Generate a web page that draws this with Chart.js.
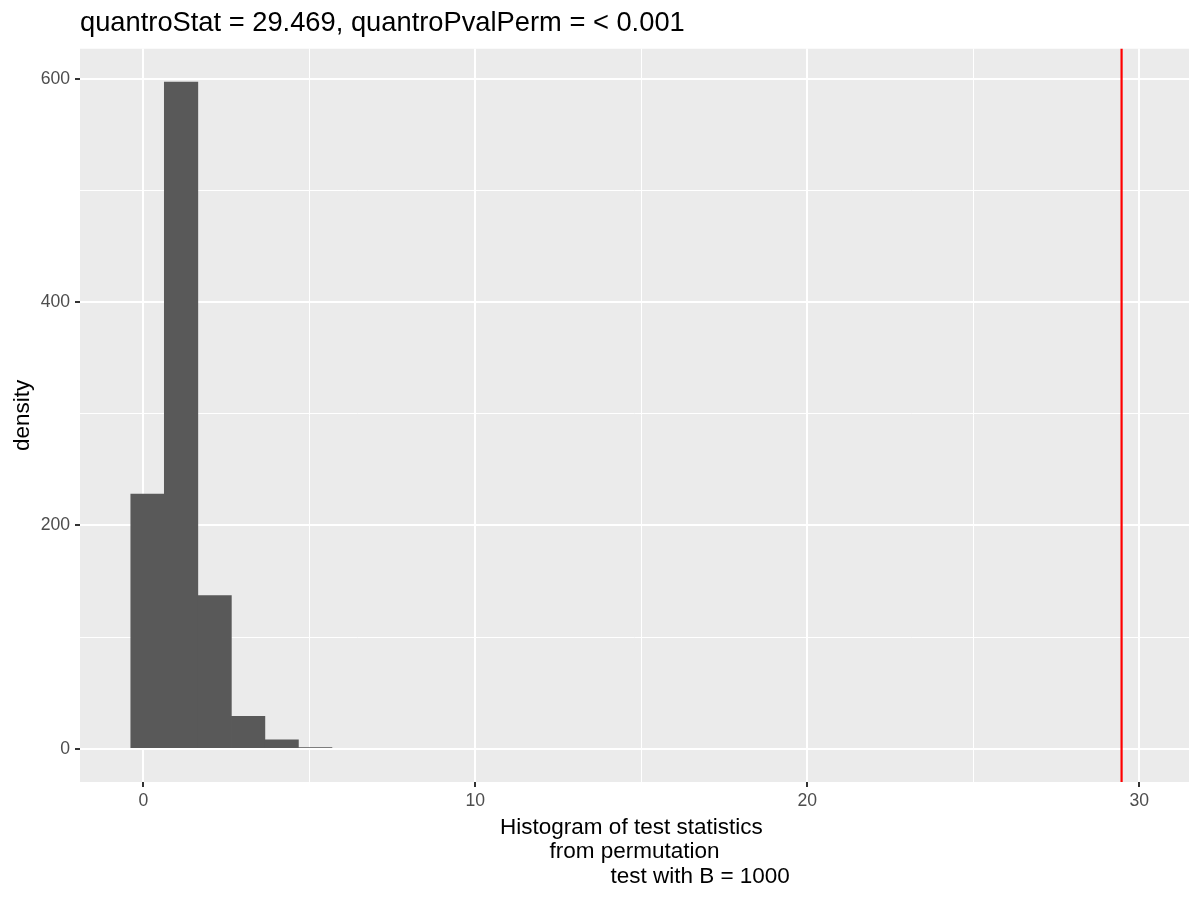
<!DOCTYPE html>
<html>
<head>
<meta charset="utf-8">
<title>Histogram of permutation test statistics</title>
<script src="https://cdn.jsdelivr.net/npm/chart.js@4.4.1/dist/chart.umd.min.js"></script>
<style>
    html, body { margin: 0; padding: 0; background: #ffffff; }
    #histChart { display: block; }
</style>
</head>
<body>
<canvas id="histChart" width="1200" height="900"></canvas>
<script>
// histogram bins (width ~1.01, first left edge ~ -0.38)
const binCenters = [0.125, 1.135, 2.145, 3.155, 4.165, 5.175];
const binCounts = [228, 597, 137, 29, 8, 1];
const quantroStat = 29.469;
const quantroPval = '< 0.001';
const permutations = 1000;

const xGridValues = [0, 5, 10, 15, 20, 25, 30];
const xTickLabels = [0, 10, 20, 30];
const yGridValues = [0, 100, 200, 300, 400, 500, 600];
const yTickLabels = [0, 200, 400, 600];
const xLimits = [-1.91, 31.5];
const yLimits = [-29.85, 626.85];

document.addEventListener("DOMContentLoaded", function () {
    Chart.defaults.font.family = "'Liberation Sans', Arial, sans-serif";

    const panelBackground = {
        id: 'panelBackground',
        beforeDraw(chart) {
            const { ctx, chartArea } = chart;
            ctx.save();
            ctx.fillStyle = '#EBEBEB';
            ctx.fillRect(chartArea.left, chartArea.top, chartArea.right - chartArea.left, chartArea.bottom - chartArea.top);
            ctx.restore();
        }
    };

    // vertical line at the observed statistic
    const statLine = {
        id: 'statLine',
        afterDatasetsDraw(chart) {
            const { ctx, chartArea } = chart;
            const x = chart.scales.x.getPixelForValue(quantroStat);
            ctx.save();
            ctx.strokeStyle = '#FF0000';
            ctx.lineWidth = 2.2;
            ctx.beginPath();
            ctx.moveTo(x, chartArea.top);
            ctx.lineTo(x, chartArea.bottom);
            ctx.stroke();
            ctx.restore();
        }
    };

    function gridFor(majors) {
        return {
            offset: false,
            color: '#ffffff',
            lineWidth: c => (c.tick && majors.includes(c.tick.value)) ? 2 : 1,
            drawTicks: true,
            tickLength: 5,
            tickWidth: 2,
            tickColor: c => (c.tick && majors.includes(c.tick.value)) ? '#333333' : 'rgba(0,0,0,0)'
        };
    }

    const ctx = document.getElementById("histChart").getContext("2d");

    new Chart(ctx, {
        type: 'bar',
        data: {
            datasets: [{
                label: 'count',
                data: binCenters.map((x, i) => ({ x: x, y: binCounts[i] })),
                backgroundColor: '#595959',
                borderWidth: 0,
                barPercentage: 1,
                categoryPercentage: 1
            }]
        },
        options: {
            responsive: false,
            animation: false,
            devicePixelRatio: 1,
            layout: { padding: { left: 0, right: 11, top: 0, bottom: 0 } },
            plugins: {
                legend: { display: false },
                tooltip: { enabled: false },
                title: {
                    display: true,
                    text: 'quantroStat = ' + quantroStat.toFixed(3) + ', quantroPvalPerm = ' + quantroPval,
                    align: 'start',
                    fullSize: false,
                    color: '#000000',
                    font: { size: 27.3, weight: 'normal', lineHeight: 1.2 },
                    padding: { top: 7, bottom: 9 }
                }
            },
            scales: {
                x: {
                    type: 'linear',
                    offset: false,
                    min: xLimits[0],
                    max: xLimits[1],
                    afterBuildTicks: s => { s.ticks = xGridValues.map(v => ({ value: v })); },
                    afterFit: s => { s.height = 118; },
                    grid: gridFor(xTickLabels),
                    border: { display: false },
                    ticks: {
                        autoSkip: false,
                        maxRotation: 0,
                        padding: 4,
                        color: '#4D4D4D',
                        font: { size: 17.6 },
                        callback: v => xTickLabels.includes(v) ? String(v) : ''
                    },
                    title: {
                        display: true,
                        text: [
                            'Histogram of test statistics ',
                            'from permutation',
                            ' '.repeat(21) + 'test with B = ' + permutations
                        ],
                        color: '#000000',
                        font: { size: 22.5, lineHeight: 1.09 },
                        padding: { top: 0, bottom: 11 }
                    }
                },
                y: {
                    min: yLimits[0],
                    max: yLimits[1],
                    afterBuildTicks: s => { s.ticks = yGridValues.map(v => ({ value: v })); },
                    afterFit: s => { s.width = 80; },
                    grid: gridFor(yTickLabels),
                    border: { display: false },
                    ticks: {
                        autoSkip: false,
                        padding: 5,
                        color: '#4D4D4D',
                        font: { size: 17.6 },
                        callback: v => yTickLabels.includes(v) ? String(v) : ''
                    },
                    title: {
                        display: true,
                        text: 'density',
                        color: '#000000',
                        font: { size: 22.5, lineHeight: 1.2 },
                        padding: { top: 9, bottom: 0 }
                    }
                }
            }
        },
        plugins: [panelBackground, statLine]
    });
});
</script>
</body>
</html>
